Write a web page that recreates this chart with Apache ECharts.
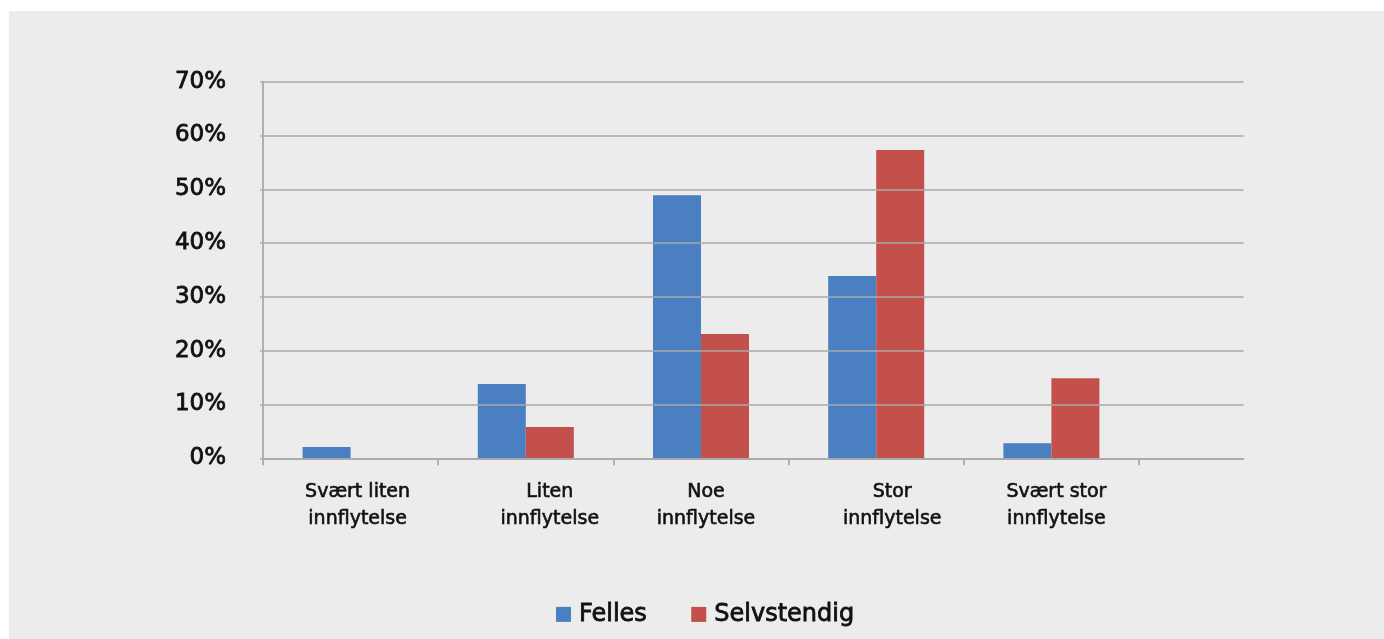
<!DOCTYPE html>
<html>
<head>
<meta charset="utf-8">
<script src="https://cdn.jsdelivr.net/npm/echarts@6/dist/echarts.min.js"></script>
<style>
html,body{margin:0;padding:0;background:#ffffff;}
#panel{position:absolute;left:9px;top:11px;width:1375px;height:628px;background:#ececec;}
#chart{position:absolute;left:0;top:0;width:1384px;height:639px;}
</style>
</head>
<body>
<div id="panel"></div>
<div id="chart"></div>
<script>
const categories = ["Svært liten\ninnflytelse", "Liten\ninnflytelse", "Noe\ninnflytelse", "Stor\ninnflytelse", "Svært stor\ninnflytelse"];
const felles = [0.021, 0.138, 0.489, 0.339, 0.028];
const selvstendig = [0, 0.058, 0.231, 0.573, 0.149];
const yTicks = [0, 0.1, 0.2, 0.3, 0.4, 0.5, 0.6, 0.7];
const seriesNames = ["Felles", "Selvstendig"];

// label horizontal nudges (style only)
const labelNudge = [7, 24, 5, 16, 5];

const FONT = "DejaVu Sans";
const INK = '#111';
const chart = echarts.init(document.getElementById('chart'), null, {renderer: 'canvas'});
const gridTop = 81.7, gridBottom = 639 - 458.3;

chart.setOption({
  backgroundColor: 'transparent',
  animation: false,
  grid: [
    {left: 263, right: 1384 - 1139, top: gridTop, bottom: gridBottom, containLabel: false},
    {left: 263, right: 1384 - 1243.5, top: gridTop, bottom: gridBottom, containLabel: false}
  ],
  legend: {
    data: seriesNames,
    left: 551,
    top: 597,
    itemWidth: 15,
    itemHeight: 15,
    itemGap: 44,
    icon: 'rect',
    textStyle: {fontFamily: FONT, fontSize: 24, color: INK, textBorderColor: INK, textBorderWidth: 0.8, padding: [0, 0, 0, 3]}
  },
  xAxis: [
    {
      type: 'category', gridIndex: 0,
      data: categories.map((c, i) => ({value: c, textStyle: {padding: [0, 0, 0, labelNudge[i] * 2]}})),
      axisLine: {show: false},
      axisTick: {show: true, length: 7, lineStyle: {color: '#b0b0b0', width: 2}},
      axisLabel: {fontFamily: FONT, fontSize: 19, color: INK, textBorderColor: INK, textBorderWidth: 0.6, lineHeight: 27, margin: 20, interval: 0}
    },
    {
      type: 'value', gridIndex: 1, min: 0, max: 1,
      axisLine: {show: true, lineStyle: {color: '#b3b3b3', width: 2}},
      axisTick: {show: false}, axisLabel: {show: false}, splitLine: {show: false}
    }
  ],
  yAxis: [
    {
      type: 'value', gridIndex: 0, min: 0, max: 0.7, interval: 0.1,
      axisLine: {show: true, lineStyle: {color: '#b0b0b0', width: 2}},
      axisTick: {show: true, length: 3, lineStyle: {color: '#b0b0b0', width: 1.5}},
      splitLine: {show: false},
      axisLabel: {
        fontFamily: FONT, fontSize: 23, color: INK, textBorderColor: INK, textBorderWidth: 0.8, margin: 37,
        formatter: v => Math.round(v * 100) + '%'
      }
    },
    {
      type: 'value', gridIndex: 1, min: 0, max: 0.7, interval: 0.1, z: 5,
      axisLine: {show: false}, axisTick: {show: false}, axisLabel: {show: false},
      splitLine: {show: true, lineStyle: {color: '#a8a8a8', width: 1.5}}
    }
  ],
  series: [
    {
      name: seriesNames[0], type: 'bar', xAxisIndex: 0, yAxisIndex: 0,
      data: felles, barWidth: 48, barGap: '0%',
      itemStyle: {color: '#4A7FC1'}
    },
    {
      name: seriesNames[1], type: 'bar', xAxisIndex: 0, yAxisIndex: 0,
      data: selvstendig, barWidth: 48, barGap: '0%',
      itemStyle: {color: '#C4504C'}
    }
  ]
});
</script>
</body>
</html>
